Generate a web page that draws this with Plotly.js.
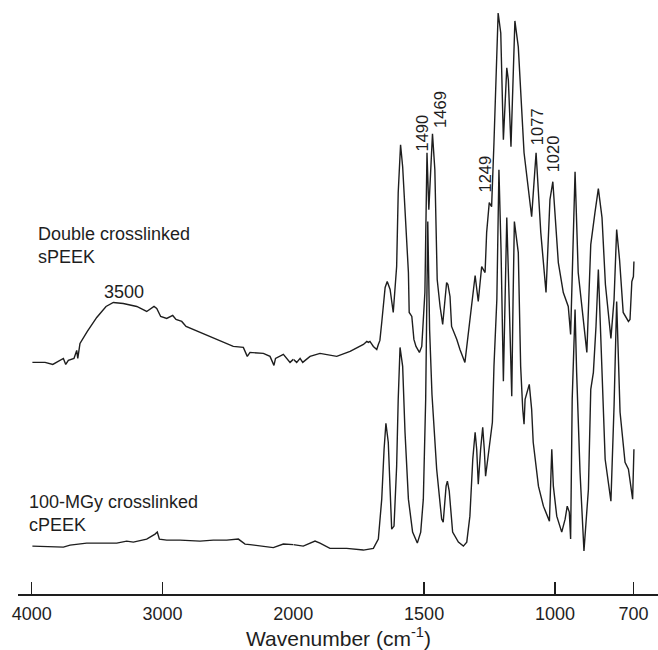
<!DOCTYPE html>
<html>
<head>
<meta charset="utf-8">
<script src="https://cdn.plot.ly/plotly-3.0.1.min.js"></script>
<style>html,body{margin:0;padding:0;background:#fff;}#chart{width:658px;height:650px;}</style>
</head>
<body>
<div id="chart"></div>
<script>
// ---- Data (wavenumber in cm^-1, absorbance in arbitrary units) ----
const sPEEK_wavenumber = [3995,3898,3839,3758,3740,3720,3677,3656,3648,3631,3575,3503,3432,3376,3300,3197,3121,3065,3044,3014,2968,2922,2897,2853,2820,2713,2612,2535,2459,2382,2352,2331,2229,2178,2148,2136,2076,2025,2000,
  1987,1974,1964,1936,1898,1834,1783,1732,1719,1713,1707,1694,1681,1675,1669,1662,1656,1649,1641,1630,1618,1605,1599,1590,1582,1573,1560,1557,1547,1539,1531,1518,1509,1497,1493,1489,1482,1476,1468,1459,1450,1439,1429,1414,1409,1401,1395,1375,1363,1344,1318,1305,1293,1280,1267,1261,1251,1242,1233,1217,1207,1197,1184,1178,1168,1153,1140,1118,1089,1072,1054,1034,1019,1008,987,968,949,940,923,911,878,863,847,834,820,807,786,774,764,753,739,719,713,706,700,698];
const sPEEK_absorbance = [2.37,2.37,2.35,2.41,2.35,2.39,2.41,2.49,2.41,2.56,2.68,2.82,2.93,2.97,2.96,2.93,2.88,2.93,2.91,2.83,2.81,2.84,2.80,2.78,2.73,2.67,2.62,2.57,2.53,2.52,2.43,2.47,2.46,2.43,2.34,2.41,2.45,2.37,2.40,
  2.37,2.41,2.37,2.43,2.46,2.43,2.48,2.55,2.58,2.57,2.58,2.53,2.50,2.55,2.59,2.77,2.97,3.12,3.18,3.10,2.87,3.33,4.07,4.55,4.33,3.87,3.27,2.87,2.83,2.60,2.53,2.47,2.53,3.07,3.60,4.47,3.90,4.20,4.66,4.30,3.20,2.93,2.75,3.17,3.15,3.03,2.73,2.60,2.50,2.37,2.93,3.24,2.98,3.33,3.27,3.67,3.97,3.93,4.57,5.87,5.67,4.60,5.32,5.20,4.53,5.79,5.53,4.47,3.83,4.47,3.67,3.07,4.00,4.18,3.37,3.07,2.93,2.65,4.28,3.27,2.47,3.55,3.87,4.11,3.82,3.15,2.61,3.00,3.70,3.40,2.87,2.78,2.80,3.18,3.23,3.38];

const cPEEK_wavenumber = [3995,3758,3707,3580,3350,3274,3223,3121,3057,3040,3024,2968,2866,2713,2612,2509,2420,2369,2331,2229,2153,2076,2000,
  1962,1917,1898,1860,1796,1732,1694,1675,1662,1653,1646,1637,1630,1624,1615,1605,1599,1592,1582,1573,1560,1544,1526,1513,1503,1494,1486,1479,1470,1452,1433,1427,1416,1411,1404,1391,1369,1350,1337,1325,1314,1305,1299,1293,1284,1276,1270,1265,1252,1239,1233,1222,1214,1206,1197,1190,1184,1175,1165,1160,1155,1140,1131,1123,1118,1114,1108,1098,1089,1083,1063,1044,1021,1012,1006,993,974,961,953,945,940,934,923,917,904,889,872,863,853,843,834,821,808,786,774,764,751,732,719,703,698];
const cPEEK_absorbance = [0.53,0.52,0.54,0.56,0.56,0.58,0.57,0.60,0.65,0.67,0.60,0.59,0.59,0.58,0.59,0.59,0.60,0.55,0.545,0.53,0.515,0.55,0.545,
  0.53,0.58,0.56,0.507,0.507,0.49,0.507,0.60,1.00,1.50,1.76,1.57,1.00,0.70,0.73,1.33,2.00,2.52,2.33,1.67,1.00,0.67,0.56,0.67,1.00,2.00,3.78,2.70,2.05,1.30,0.80,0.77,1.13,1.18,1.08,0.67,0.57,0.53,0.57,0.83,1.40,1.67,1.50,1.15,1.50,1.72,1.50,1.23,1.50,1.77,2.33,3.00,4.30,3.50,2.18,3.00,3.82,3.00,2.03,3.00,3.78,3.47,2.33,1.90,1.75,2.00,2.05,2.15,1.90,1.57,1.13,0.93,0.78,1.50,1.13,0.83,0.67,0.80,0.93,0.87,0.60,2.00,2.90,2.27,1.27,0.48,1.10,2.10,2.27,2.73,3.30,2.27,1.40,0.98,1.93,2.98,1.87,1.37,1.30,1.00,1.50];

const tickWavenumbers = [4000,3000,2000,1500,1000,700];
const scaleBreak = 2000; // the x scale doubles below 2000 cm^-1

const peakLabels = ['1490','1469','1249','1077','1020'];
const peakLabelX = [1509,1439,1268,1071,1009];
const peakLabelY = [4.67,4.90,4.26,4.73,4.46];

// ---- Build traces: each spectrum drawn on the high range axis (x) and low range axis (x2) ----
const ink = '#1e1e1e';
function split(wn, ab, high){
  const xs=[], ys=[];
  for(let i=0;i<wn.length;i++){
    if(high ? wn[i]>=scaleBreak : wn[i]<=scaleBreak){ xs.push(wn[i]); ys.push(ab[i]); }
  }
  return {x:xs, y:ys};
}
const traces = [];
[[sPEEK_wavenumber,sPEEK_absorbance,'Double crosslinked sPEEK'],[cPEEK_wavenumber,cPEEK_absorbance,'100-MGy crosslinked cPEEK']].forEach(s=>{
  const hi = split(s[0], s[1], true), lo = split(s[0], s[1], false);
  traces.push({type:'scatter', mode:'lines', name:s[2], x:hi.x, y:hi.y, xaxis:'x', yaxis:'y', line:{color:ink, width:1.4}, showlegend:false});
  traces.push({type:'scatter', mode:'lines', name:s[2], x:lo.x, y:lo.y, xaxis:'x2', yaxis:'y', line:{color:ink, width:1.4}, showlegend:false});
});

const fontFam = 'Liberation Sans, Arial, Helvetica, sans-serif';
const axisCommon = {
  tickmode:'array', ticks:'inside', ticklen:12, tickwidth:1.3, tickcolor:ink,
  showline:true, linecolor:ink, linewidth:1.5, showgrid:false, zeroline:false,
  ticklabelstandoff:3,
  tickfont:{family:fontFam, size:18, color:ink}, anchor:'y', fixedrange:true
};
const hiTicks = tickWavenumbers.filter(v=>v>scaleBreak);
const loTicks = tickWavenumbers.filter(v=>v<=scaleBreak);

const annotations = [
  {text:'Double crosslinked<br>sPEEK', xref:'x', yref:'y', x:3967, y:3.54, xanchor:'left', yanchor:'middle', align:'left', showarrow:false, font:{family:fontFam, size:18, color:ink}},
  {text:'100-MGy crosslinked<br>cPEEK', xref:'x', yref:'y', x:4038, y:0.86, xanchor:'left', yanchor:'middle', align:'left', showarrow:false, font:{family:fontFam, size:18, color:ink}},
  {text:'3500', xref:'x', yref:'y', x:3295, y:3.08, xanchor:'center', yanchor:'middle', showarrow:false, font:{family:fontFam, size:18, color:ink}},
  {text:'Wavenumber (cm<sup>-1</sup>)', xref:'paper', yref:'paper', x:0.5, y:-0.072, xanchor:'center', yanchor:'middle', showarrow:false, font:{family:fontFam, size:21, color:ink}}
];
peakLabels.forEach((t,i)=>{
  annotations.push({text:t, xref:'x2', yref:'y', x:peakLabelX[i], y:peakLabelY[i], textangle:-90, xanchor:'center', yanchor:'middle', showarrow:false, font:{family:fontFam, size:16.5, color:ink}});
});

const layout = {
  width:658, height:650,
  margin:{l:18, r:0, t:0, b:56, pad:0},
  paper_bgcolor:'#ffffff', plot_bgcolor:'#ffffff',
  showlegend:false,
  font:{family:fontFam, size:18, color:ink},
  xaxis:Object.assign({}, axisCommon, {domain:[0,0.43016], range:[4105,2000], tickvals:hiTicks, ticktext:hiTicks.map(String)}),
  xaxis2:Object.assign({}, axisCommon, {domain:[0.43016,1], range:[2000,606], tickvals:loTicks, ticktext:loTicks.map(String)}),
  yaxis:{range:[0.05,6.0], visible:false, domain:[0,1], fixedrange:true},
  annotations:annotations
};

Plotly.newPlot('chart', traces, layout, {staticPlot:true, displayModeBar:false});
</script>
</body>
</html>
